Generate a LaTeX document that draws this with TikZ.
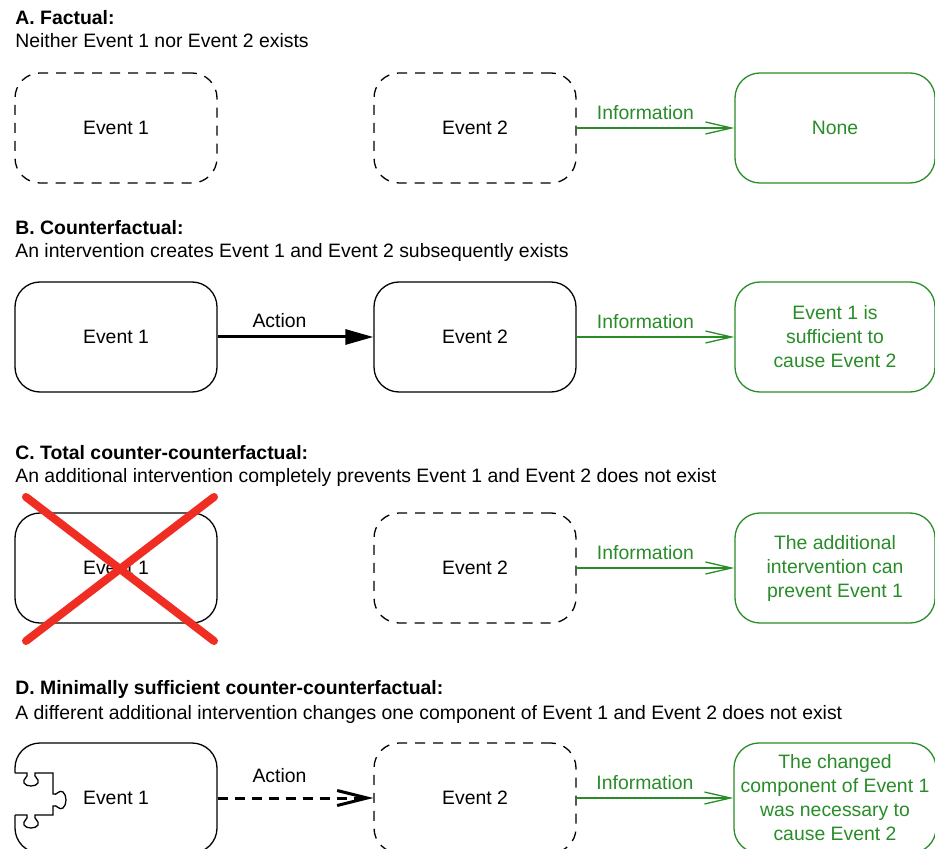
\documentclass[tikz,border=0pt]{standalone}
\usepackage{fontspec}
\setmainfont{Liberation Sans}
\usetikzlibrary{arrows.meta}
\definecolor{infogreen}{RGB}{40,140,40}
\definecolor{crossred}{RGB}{240,45,35}

\begin{document}
\begin{tikzpicture}[x=0.5pt,y=-0.5pt,
	font=\fontsize{9.7}{12}\selectfont,
	head/.style={anchor=base west,inner sep=0pt,font=\fontsize{9.7}{12}\selectfont\bfseries},
	sub/.style={anchor=base west,inner sep=0pt},
	evbox/.style={draw,line width=0.65pt,rounded corners=12.5pt,minimum width=101pt,minimum height=55pt,align=center},
	ghostbox/.style={evbox,dash pattern=on 5pt off 4pt},
	infobox/.style={evbox,draw=infogreen,text=infogreen,minimum width=100pt},
	infoarrow/.style={draw=infogreen,line width=0.65pt,-{Straight Barb[length=13pt,width=6pt]}},
	lbl/.style={above,inner sep=4pt},
	infolbl/.style={lbl,text=infogreen,xshift=-5pt},
	actlbl/.style={lbl,xshift=-8pt}]
	\useasboundingbox (0,0) rectangle (935,849);
	% A
	\node [head] (ha) at (15,25) {A. Factual:};
	\node [sub] (sa) at (15,48) {Neither Event 1 nor Event 2 exists};
	\node [ghostbox] (a1) at (116,128) {Event 1};
	\node [ghostbox] (a2) at (475,128) {Event 2};
	\node [infobox] (a3) at (835,128) {None};
	\draw [infoarrow] (a2.east) -- node [infolbl] {Information} (a3.west);
	% B
	\node [head] (hb) at (15,235) {B. Counterfactual:};
	\node [sub] (sb) at (15,258) {An intervention creates Event 1 and Event 2 subsequently exists};
	\node [evbox] (b1) at (116,337) {Event 1};
	\node [evbox] (b2) at (475,337) {Event 2};
	\node [infobox] (b3) at (835,337) {Event 1 is\\sufficient to\\cause Event 2};
	\draw [line width=1.5pt,-{Triangle[length=14pt,width=7.5pt]}] (b1.east) -- node [actlbl] {Action} (b2.west);
	\draw [infoarrow] (b2.east) -- node [infolbl] {Information} (b3.west);
	% C
	\node [head] (hc) at (15,459) {C. Total counter-counterfactual:};
	\node [sub] (sc) at (15,482) {An additional intervention completely prevents Event 1 and Event 2 does not exist};
	\node [evbox] (c1) at (116,568) {Event 1};
	\node [ghostbox] (c2) at (475,568) {Event 2};
	\node [infobox] (c3) at (835,568) {The additional\\intervention can\\prevent Event 1};
	\draw [infoarrow] (c2.east) -- node [infolbl] {Information} (c3.west);
	\draw [crossred,line width=4pt,line cap=round] (26,497) -- (214,641) (214,497) -- (26,641);
	% D
	\node [head] (hd) at (15,694) {D. Minimally sufficient counter-counterfactual:};
	\node [sub] (sd) at (15,719) {A different additional intervention changes one component of Event 1 and Event 2 does not exist};
	\node [evbox,draw=none] (d1) at (116,798) {Event 1};
	\node [ghostbox] (d2) at (475,798) {Event 2};
	\node [infobox] (d3) at (835,798) {The changed\\component of Event 1\\was necessary to\\cause Event 2};
	% box with a puzzle piece taken out of its left side
	\draw [line width=0.65pt,rounded corners=12.5pt] (15,773) -- (15,743) -- (217,743) -- (217,853) -- (15,853) -- (15,815);
	\draw [line width=0.65pt] (15,815) -- (27,815)
		.. controls (29,819) and (22,821) .. (24,825)
		.. controls (26,829) and (36,829) .. (38,825)
		.. controls (40,821) and (33,819) .. (35,815) -- (53,815) -- (53,806)
		.. controls (57,804) and (59,811) .. (63,808)
		.. controls (67,805) and (67,795) .. (63,792)
		.. controls (59,789) and (57,796) .. (53,794) -- (53,773) -- (35,773)
		.. controls (33,777) and (40,779) .. (38,783)
		.. controls (36,787) and (26,787) .. (24,783)
		.. controls (22,779) and (29,777) .. (27,773) -- (15,773);
	\draw [line width=1.5pt,dash pattern=on 5pt off 3.5pt,-{Straight Barb[length=15pt,width=7.5pt]}] (d1.east) -- node [actlbl,inner sep=7pt] {Action} (d2.west);
	\draw [infoarrow] (d2.east) -- node [infolbl] {Information} (d3.west);
\end{tikzpicture}
\end{document}
